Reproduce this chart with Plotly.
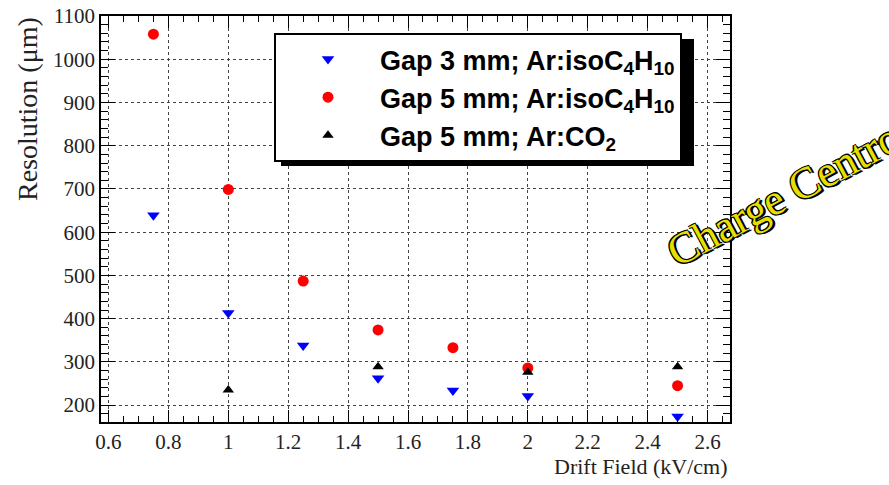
import plotly.graph_objects as go

# Data
x_gap3_iso = [0.75, 1.0, 1.25, 1.5, 1.75, 2.0, 2.5]
y_gap3_iso = [639, 413, 338, 262, 234, 221, 174]

x_gap5_iso = [0.75, 1.0, 1.25, 1.5, 1.75, 2.0, 2.5]
y_gap5_iso = [1058, 699, 487, 374, 333, 286, 245]

x_gap5_co2 = [1.0, 1.5, 2.0, 2.5]
y_gap5_co2 = [235, 289, 276, 289]

names = ["Gap 3 mm; Ar:isoC<sub>4</sub>H<sub>10</sub>",
         "Gap 5 mm; Ar:isoC<sub>4</sub>H<sub>10</sub>",
         "Gap 5 mm; Ar:CO<sub>2</sub>"]

fig = go.Figure()
fig.add_trace(go.Scatter(x=x_gap3_iso, y=y_gap3_iso, mode="markers", name=names[0],
                         legendgroup="a",
                         marker=dict(symbol="triangle-down", size=11, color="#0000ff")))
fig.add_trace(go.Scatter(x=x_gap5_iso, y=y_gap5_iso, mode="markers", name=names[1],
                         legendgroup="b",
                         marker=dict(symbol="circle", size=11, color="#ff0000")))
fig.add_trace(go.Scatter(x=x_gap5_co2, y=y_gap5_co2, mode="markers", name=names[2],
                         legendgroup="c",
                         marker=dict(symbol="triangle-up", size=10, color="#000000")))

serif = "Liberation Serif, Times New Roman, serif"
sans = "Liberation Sans, Arial, Helvetica, sans-serif"

axis_common = dict(
    showline=True, linecolor="black", linewidth=1.5, mirror="ticks",
    ticks="inside", tickcolor="black", tickwidth=1.2,
    showgrid=True, gridcolor="#444444", griddash="dot", gridwidth=1,
    zeroline=False, automargin=False,
    tickfont=dict(family=serif, size=21, color="#222222"),
)

fig.update_xaxes(range=[0.575, 2.675], dtick=0.2, tick0=0.6, ticklen=12,
                 minor=dict(dtick=0.05, ticks="inside", ticklen=6, tickcolor="black", showgrid=False),
                 **axis_common)
fig.update_yaxes(range=[161, 1100], dtick=100, tick0=0, ticklen=14,
                 minor=dict(dtick=20, ticks="inside", ticklen=7, tickcolor="black", showgrid=False),
                 **axis_common)

L, R, T, B = 101, 730, 16, 422
W, H = R - L, B - T

fig.update_layout(
    width=889, height=485,
    margin=dict(l=L, r=889 - R, t=T, b=485 - B),
    paper_bgcolor="white", plot_bgcolor="white",
    showlegend=True,
    legend=dict(
        x=(274 - L) / W, y=1 - (33 - T) / H,
        xanchor="left", yanchor="top",
        bgcolor="white", bordercolor="black", borderwidth=2,
        font=dict(family=sans, size=27, color="black", weight="bold"),
        traceorder="grouped", tracegroupgap=0, itemwidth=94,
    ),
    annotations=[
        dict(text="Resolution (μm)", xref="paper", yref="paper",
             x=-(L - 28) / W, y=1 - (15 - T) / H,
             xanchor="center", yanchor="top", textangle=-90, showarrow=False,
             font=dict(family=serif, size=28, color="#222222")),
        dict(text="Drift Field (kV/cm)", xref="paper", yref="paper",
             x=1.0, y=-(467 - B) / H,
             xanchor="right", yanchor="middle", showarrow=False,
             font=dict(family=serif, size=22, color="#222222")),
        dict(text="Charge Centroid", xref="paper", yref="paper",
             x=(799 - L) / W, y=1 - (186 - T) / H,
             xanchor="center", yanchor="middle", textangle=-28, showarrow=False,
             font=dict(family=serif, size=44, color="#e6e000",
                       shadow="1px 1px 0 #000, -1px -1px 0 #000, 1px -1px 0 #000, -1px 1px 0 #000, 2px 2px 0 #000")),
    ],
)

# legend shadow
fig.add_shape(type="rect", xref="paper", yref="paper",
              x0=(281 - L) / W, x1=(694 - L) / W,
              y0=1 - (166 - T) / H, y1=1 - (39 - T) / H,
              fillcolor="black", line=dict(width=0), layer="above")

fig.write_html("out.html", config={"displayModeBar": False},
               post_script="document.body.style.margin='0';document.body.style.padding='0';")
